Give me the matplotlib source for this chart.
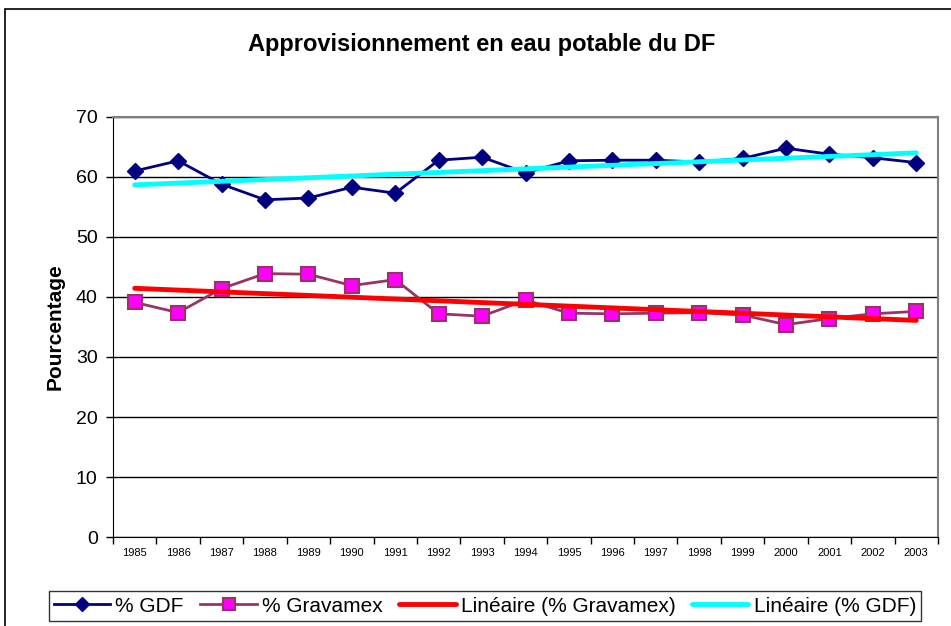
import matplotlib.pyplot as plt
import numpy as np
from matplotlib.patches import Rectangle

plt.rcParams['font.family'] = ['Liberation Sans', 'DejaVu Sans']

years = ['1985', '1986', '1987', '1988', '1989', '1990', '1991', '1992', '1993', '1994',
         '1995', '1996', '1997', '1998', '1999', '2000', '2001', '2002', '2003']
gdf = [61.0, 62.7, 58.8, 56.2, 56.5, 58.3, 57.3, 62.8, 63.3, 60.7,
       62.7, 62.8, 62.8, 62.5, 63.1, 64.8, 63.8, 63.2, 62.4]
gravamex = [39.1, 37.4, 41.4, 43.9, 43.8, 41.9, 42.9, 37.2, 36.8, 39.5,
            37.3, 37.2, 37.3, 37.4, 37.0, 35.4, 36.4, 37.2, 37.6]

x = np.arange(len(years))

fig = plt.figure(figsize=(9.51, 6.26), dpi=100)
# outer chart border
fig.patches.append(Rectangle((5 / 951, -0.01), 1.0, 1 - 9 / 626 + 0.01, transform=fig.transFigure,
                             fill=False, edgecolor='black', linewidth=1.2))

ax = fig.add_axes([113 / 951, 1 - 537 / 626, 825 / 951, 420 / 626])

# linear trendlines
p_grav = np.polyfit(x, gravamex, 1)
p_gdf = np.polyfit(x, gdf, 1)

l1, = ax.plot(x, gdf, color='#000080', lw=2, marker='D', ms=8.5, mfc='#000080', mec='#000080', zorder=4)
l2, = ax.plot(x, gravamex, color='#993366', lw=2, marker='s', ms=10, mfc='#FF00FF', mec='#993366',
              mew=1.5, zorder=4)
l3, = ax.plot(x, np.polyval(p_grav, x), color='#FF0000', lw=3.5, solid_capstyle='round', zorder=5)
l4, = ax.plot(x, np.polyval(p_gdf, x), color='#00FFFF', lw=3.5, solid_capstyle='round', zorder=5)

ax.set_xlim(-0.5, len(years) - 0.5)
ax.set_ylim(0, 70)
ax.set_yticks(range(0, 71, 10))
ax.tick_params(axis='y', labelsize=14, direction='out', length=5, width=1, pad=6)
ax.set_xticks(x)
ax.set_xticklabels(years, fontsize=8)
ax.tick_params(axis='x', which='major', length=0, pad=8)
ax.set_xticks(np.arange(-0.5, len(years), 1), minor=True)
ax.tick_params(axis='x', which='minor', length=5, direction='out', width=1)

ax.grid(axis='y', color='black', lw=1)
ax.set_axisbelow(True)
for s in ['top', 'right']:
    ax.spines[s].set_color('#808080')
    ax.spines[s].set_linewidth(1.5)
ax.spines['left'].set_color('black')
ax.spines['bottom'].set_color('black')

ax.set_ylabel('Pourcentage', fontsize=15, fontweight='bold', labelpad=8)
fig.text(482 / 951, 1 - 45 / 626, 'Approvisionnement en eau potable du DF', ha='center', va='center',
         fontsize=17, fontweight='bold')

leg = fig.legend([l1, l2, l3, l4],
                 ['% GDF', '% Gravamex', 'Linéaire (% Gravamex)', 'Linéaire (% GDF)'],
                 loc='center', bbox_to_anchor=(485 / 951, 1 - 606 / 626), ncol=4, fontsize=15,
                 frameon=True, fancybox=False, edgecolor='black', handlelength=2.7,
                 handletextpad=0.25, columnspacing=0.8, borderpad=0.25, borderaxespad=0,
                 markerscale=0.85)
leg.get_frame().set_linewidth(1)

fig.savefig('out.png', dpi=100)
